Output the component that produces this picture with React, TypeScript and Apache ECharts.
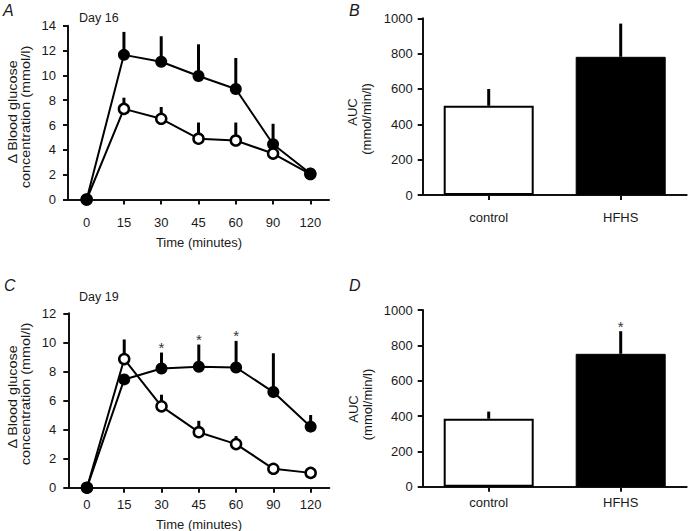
import React, { useEffect, useRef } from "react";
import * as echarts from "echarts";

const timeLabels = ["0", "15", "30", "45", "60", "90", "120"];

// Day 16 (panel A)
const d16Control = [0, 7.3, 6.5, 4.9, 4.75, 3.7, 2.05];
const d16ControlErrTop = [null, 8.2, 7.45, 6.2, 6.2, null, null];
const d16Hfhs = [0, 11.65, 11.1, 9.95, 8.9, 4.45, 2.1];
const d16HfhsErrTop = [null, 13.5, 13.15, 12.5, 11.4, 6.1, null];

// Day 19 (panel C)
const d19Control = [0, 8.85, 5.6, 3.82, 3.0, 1.3, 1.02];
const d19ControlErrTop = [null, 10.2, 6.4, 4.6, 3.55, null, null];
const d19Hfhs = [0, 7.45, 8.2, 8.32, 8.27, 6.58, 4.2];
const d19HfhsErrTop = [null, null, 9.3, 9.85, 10.1, 9.25, 5.0];
const d19Significant = ["30", "45", "60"];

// AUC (panels B and D)
const groups = ["control", "HFHS"];
const auc16 = [505, 782];
const auc16ErrTop = [600, 970];
const auc19 = [385, 752];
const auc19ErrTop = [425, 880];
const auc19Significant = ["HFHS"];

const FONT = "'Liberation Sans', Arial, Helvetica, sans-serif";
const INK = "#1a1a1a";

function errData(vals: number[], tops: (number | null)[]) {
  const out: number[][] = [];
  vals.forEach((v, i) => {
    const t = tops[i];
    if (t != null) out.push([i, v, t]);
  });
  return out;
}

function starData(cats: string[], sig: string[], tops: (number | null)[]) {
  return sig.map((c) => {
    const i = cats.indexOf(c);
    return [i, tops[i] as number];
  });
}

function errSeries(xi: number, data: number[][], z = 1) {
  return {
    type: "custom",
    xAxisIndex: xi,
    yAxisIndex: xi,
    z,
    silent: true,
    encode: { x: 0, y: [1, 2] },
    data,
    renderItem: (params: any, api: any) => {
      const p0 = api.coord([api.value(0), api.value(1)]);
      const p1 = api.coord([api.value(0), api.value(2)]);
      return {
        type: "line",
        shape: { x1: p0[0], y1: p0[1], x2: p1[0], y2: p1[1] },
        style: { stroke: "#000", lineWidth: 3 },
      };
    },
  };
}

function starSeries(xi: number, data: number[][]) {
  return {
    type: "custom",
    xAxisIndex: xi,
    yAxisIndex: xi,
    z: 5,
    silent: true,
    encode: { x: 0, y: 1 },
    data,
    renderItem: (params: any, api: any) => {
      const p = api.coord([api.value(0), api.value(1)]);
      return {
        type: "text",
        x: p[0],
        y: p[1] - 5,
        style: {
          text: "*",
          fill: "#333",
          font: `15px ${FONT}`,
          textAlign: "center",
          textVerticalAlign: "middle",
        },
      };
    },
  };
}

function lineSeries(xi: number, vals: number[], open: boolean, blackIdx: number[], z: number) {
  return {
    type: "line",
    xAxisIndex: xi,
    yAxisIndex: xi,
    z,
    symbol: "circle",
    symbolSize: open ? 10 : 12,
    lineStyle: { color: "#000", width: 2 },
    itemStyle: open
      ? { color: "#fff", borderColor: "#000", borderWidth: 2.5 }
      : { color: "#000", borderWidth: 0 },
    data: vals.map((v, i) =>
      open && blackIdx.includes(i)
        ? { value: v, itemStyle: { color: "#000", borderColor: "#000" } }
        : v
    ),
  };
}

function barSeries(xi: number, vals: number[]) {
  return {
    type: "bar",
    xAxisIndex: xi,
    yAxisIndex: xi,
    barWidth: 90,
    z: 2,
    data: vals.map((v, i) => ({
      value: v,
      itemStyle:
        i === 0
          ? { color: "#fff", borderColor: "#000", borderWidth: 2 }
          : { color: "#000", borderColor: "#000", borderWidth: 1 },
    })),
  };
}

const axisLine = { show: true, lineStyle: { color: "#111", width: 2 } };
const axisTick = { show: true, length: 5, lineStyle: { color: "#111", width: 2 } };

function xCat(gi: number, cats: string[], margin: number) {
  return {
    type: "category",
    gridIndex: gi,
    data: cats,
    boundaryGap: true,
    axisLine,
    axisTick: { ...axisTick, alignWithLabel: true },
    axisLabel: { color: INK, fontSize: 13, fontFamily: FONT, margin },
    splitLine: { show: false },
  };
}

function yVal(gi: number, max: number, interval: number, margin: number) {
  return {
    type: "value",
    gridIndex: gi,
    min: 0,
    max,
    interval,
    axisLine,
    axisTick,
    axisLabel: {
      color: INK,
      fontSize: 13,
      fontFamily: FONT,
      margin,
      formatter: (v: number) => String(v),
    },
    splitLine: { show: false },
  };
}

function txt(text: string, x: number, y: number, size: number, opts: any = {}) {
  return {
    type: "text",
    x,
    y,
    rotation: opts.rotation || 0,
    scaleX: opts.scaleX || 1,
    style: {
      text,
      fill: INK,
      font: `${opts.italic ? "italic " : ""}${size}px ${FONT}`,
      textAlign: opts.align || "center",
      textVerticalAlign: "middle",
    },
  };
}

export default function App() {
  const ref = useRef<HTMLDivElement>(null);
  useEffect(() => {
    if (!ref.current) return;
    const chart = echarts.init(ref.current, null, { renderer: "svg" });
    const R = Math.PI / 2;
    const vt = { rotation: R, scaleX: 1.2 };
    chart.setOption({
      animation: false,
      backgroundColor: "#fff",
      grid: [
        { left: 68, top: 25.7, width: 261, height: 173.8 },
        { left: 422.7, top: 18.3, width: 264, height: 176.7 },
        { left: 68.3, top: 313.3, width: 261, height: 174.4 },
        { left: 422.7, top: 310, width: 264, height: 176.7 },
      ],
      xAxis: [
        xCat(0, timeLabels, 16),
        xCat(1, groups, 16),
        xCat(2, timeLabels, 10),
        xCat(3, groups, 9.5),
      ],
      yAxis: [
        yVal(0, 14, 2, 12),
        yVal(1, 1000, 200, 10),
        yVal(2, 12, 2, 12),
        yVal(3, 1000, 200, 10),
      ],
      series: [
        errSeries(0, errData(d16Control, d16ControlErrTop)),
        errSeries(0, errData(d16Hfhs, d16HfhsErrTop)),
        lineSeries(0, d16Hfhs, false, [], 3),
        lineSeries(0, d16Control, true, [0, 6], 4),

        barSeries(1, auc16),
        errSeries(1, errData(auc16, auc16ErrTop), 1),

        errSeries(2, errData(d19Control, d19ControlErrTop)),
        errSeries(2, errData(d19Hfhs, d19HfhsErrTop)),
        lineSeries(2, d19Hfhs, false, [], 3),
        lineSeries(2, d19Control, true, [0], 4),
        starSeries(2, starData(timeLabels, d19Significant, d19HfhsErrTop)),

        barSeries(3, auc19),
        errSeries(3, errData(auc19, auc19ErrTop), 1),
        starSeries(3, starData(groups, auc19Significant, auc19ErrTop)),
      ],
      graphic: [
        txt("A", 3, 10.5, 16, { italic: true, align: "left" }),
        txt("B", 349, 10.5, 16, { italic: true, align: "left" }),
        txt("C", 4, 285, 16, { italic: true, align: "left" }),
        txt("D", 349, 285, 16, { italic: true, align: "left" }),
        txt("Day 16", 79, 18, 12.5, { align: "left" }),
        txt("Day 19", 79, 297, 12.5, { align: "left" }),
        txt("Δ Blood glucose", 13, 112, 12, vt),
        txt("concentration (mmol/l)", 26, 117, 12, vt),
        txt("Δ Blood glucose", 13, 397, 12, vt),
        txt("concentration (mmol/l)", 26, 394, 12, vt),
        txt("AUC", 352.5, 112, 13, { rotation: R }),
        txt("(mmol/min/l)", 366, 119, 13, { rotation: R }),
        txt("AUC", 353, 409, 13, { rotation: R }),
        txt("(mmol/min/l)", 367.5, 404.5, 13, { rotation: R }),
        txt("Time (minutes)", 199, 242.5, 13),
        txt("Time (minutes)", 199, 524, 13),
      ],
    });
    return () => chart.dispose();
  }, []);
  return (
    <div
      ref={ref}
      style={{ position: "absolute", left: 0, top: 0, width: 693, height: 531, background: "#fff" }}
    />
  );
}
